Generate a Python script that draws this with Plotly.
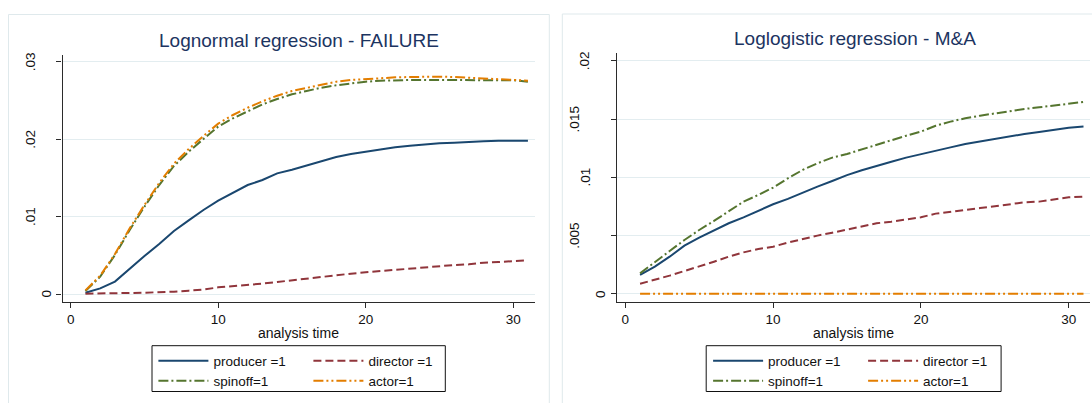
import plotly.graph_objects as go

# ---------------------------------------------------------------------------
# Data: predicted hazard by analysis time
# ---------------------------------------------------------------------------
time = list(range(1, 32))

# Lognormal regression - FAILURE
ln_producer = [0.00017, 0.00073, 0.0016, 0.00327, 0.0049, 0.00646, 0.00814, 0.00952,
               0.01085, 0.01206, 0.01309, 0.01408, 0.01473, 0.01559, 0.01606, 0.01658,
               0.01718, 0.0177, 0.01809, 0.01839, 0.01869, 0.01895, 0.01916, 0.01934,
               0.01947, 0.01955, 0.01968, 0.01972, 0.01981, 0.01981, 0.01981]
ln_director = [0.00004, 0.00004, 0.0001, 0.00013, 0.00017, 0.00022, 0.0003, 0.00043,
               0.00056, 0.00086, 0.00099, 0.00116, 0.00134, 0.00155, 0.00177, 0.00198,
               0.00228, 0.00245, 0.00263, 0.0028, 0.00297, 0.0031, 0.00323, 0.0034,
               0.00357, 0.00375, 0.00383, 0.00405, 0.00413, 0.00426, 0.00435]
ln_spinoff = [0.00039, 0.00224, 0.00504, 0.00827, 0.01128, 0.01408, 0.01654, 0.01839,
              0.02003, 0.02162, 0.0227, 0.02364, 0.0245, 0.02519, 0.0258, 0.02623,
              0.02666, 0.02696, 0.02722, 0.02743, 0.02756, 0.02765, 0.02765, 0.02765,
              0.02765, 0.02765, 0.02765, 0.02765, 0.02765, 0.02762, 0.02743]
ln_actor = [0.00047, 0.00237, 0.00517, 0.00848, 0.0115, 0.01434, 0.01684, 0.01873,
            0.02041, 0.02201, 0.02313, 0.02407, 0.02489, 0.02562, 0.02623, 0.02666,
            0.02709, 0.02743, 0.02765, 0.02778, 0.02791, 0.02799, 0.02804, 0.02808,
            0.02808, 0.02804, 0.02795, 0.02786, 0.02782, 0.02773, 0.02756]

# Loglogistic regression - M&A
ll_producer = [0.00161, 0.00232, 0.00318, 0.00413, 0.00481, 0.00542, 0.00605, 0.00656,
               0.00713, 0.00768, 0.00814, 0.00868, 0.0092, 0.00968, 0.01019, 0.0106,
               0.011, 0.01134, 0.01169, 0.012, 0.01231, 0.01257, 0.01286, 0.01309,
               0.01329, 0.01349, 0.01372, 0.01389, 0.01409, 0.01426, 0.01437]
ll_director = [0.00086, 0.00118, 0.00155, 0.00195, 0.00232, 0.00275, 0.00318, 0.00355,
               0.00384, 0.00404, 0.00439, 0.0047, 0.00499, 0.00524, 0.0055, 0.00576,
               0.00605, 0.00619, 0.00639, 0.00656, 0.00688, 0.00702, 0.00722, 0.00736,
               0.00751, 0.00771, 0.00785, 0.00791, 0.00811, 0.00828, 0.00834]
ll_spinoff = [0.00175, 0.00275, 0.00367, 0.00461, 0.00547, 0.00625, 0.00705, 0.00791,
              0.00848, 0.00911, 0.00991, 0.01063, 0.0112, 0.01169, 0.012, 0.0124,
              0.01283, 0.01317, 0.01357, 0.01392, 0.01443, 0.01478, 0.01507, 0.01529,
              0.01549, 0.01572, 0.01587, 0.01601, 0.01615, 0.01633, 0.01647]
ll_actor = [0.0, 0.0, 0.0, 0.0, 0.0, 0.0, 0.0, 0.0, 0.0, 0.0, 0.0, 0.0, 0.0, 0.0, 0.0, 0.0,
            0.0, 0.0, 0.0, 0.0, 0.0, 0.0, 0.0, 0.0, 0.0, 0.0, 0.0, 0.0, 0.0, 0.0, 0.0]

series_names = ["producer =1", "director =1", "spinoff=1", "actor=1"]
panel_titles = ["Lognormal regression - FAILURE", "Loglogistic regression - M&A"]
x_ticks = [0, 10, 20, 30]
left_yticks = [0, 0.01, 0.02, 0.03]
left_ylabels = ["0", ".01", ".02", ".03"]
right_yticks = [0, 0.005, 0.01, 0.015, 0.02]
right_ylabels = ["0", ".005", ".01", ".015", ".02"]

# ---------------------------------------------------------------------------
# Styling
# ---------------------------------------------------------------------------
W, H = 1092, 403
FONT = "Liberation Sans, Arial, sans-serif"
COLORS = ["#1a476f", "#90353b", "#55752f", "#e37e00"]
DASHES = ["solid", "8px,4px", "10px,3px,2px,3px", "10px,3px,2px,3px,2px,3px"]
GRID = "#e3edf0"
AXIS = "#2b2b2b"
TITLE_COLOR = "#1c3461"


def px_x(p):
    return p / W


def px_y(p):
    return 1 - p / H


fig = go.Figure()

left_series = [ln_producer, ln_director, ln_spinoff, ln_actor]
right_series = [ll_producer, ll_director, ll_spinoff, ll_actor]
legend_ids = [["legend", "legend", "legend2", "legend2"],
              ["legend3", "legend3", "legend4", "legend4"]]

for panel, (series, xa, ya) in enumerate([(left_series, "x", "y"), (right_series, "x2", "y2")]):
    for i, vals in enumerate(series):
        fig.add_trace(go.Scatter(
            x=time, y=vals, mode="lines", name=series_names[i],
            xaxis=xa, yaxis=ya,
            line=dict(color=COLORS[i], width=2, dash=DASHES[i]),
            legend=legend_ids[panel][i], showlegend=True,
        ))

axis_common = dict(
    showline=True, linecolor=AXIS, linewidth=1.2,
    ticks="outside", ticklen=5, tickwidth=1.2, tickcolor=AXIS,
    zeroline=False,
)

fig.update_layout(
    width=W, height=H,
    margin=dict(l=0, r=0, t=0, b=0),
    paper_bgcolor="white", plot_bgcolor="white",
    font=dict(family=FONT, color="#111111"),
    xaxis=dict(domain=[px_x(62.5), px_x(535)], range=[-0.556, 31.48],
               tickvals=x_ticks, showgrid=False, anchor="y",
               tickfont=dict(size=13.5, color="#111111"), **axis_common),
    yaxis=dict(domain=[px_y(301.7), px_y(55)], range=[-0.000995, 0.03088],
               tickvals=left_yticks, showticklabels=False, anchor="x",
               showgrid=True, gridcolor=GRID, gridwidth=1, **axis_common),
    xaxis2=dict(domain=[px_x(617.3), px_x(1090)], range=[-0.54, 31.44],
                tickvals=x_ticks, showgrid=False, anchor="y2",
                tickfont=dict(size=13.5, color="#111111"), **axis_common),
    yaxis2=dict(domain=[px_y(301.7), px_y(53.3)], range=[-0.000687, 0.02065],
                tickvals=right_yticks, showticklabels=False, anchor="x2",
                showgrid=True, gridcolor=GRID, gridwidth=1, **axis_common),
)

# Legends: two rows per panel, each row is its own horizontal legend
legend_style = dict(orientation="h", bgcolor="rgba(0,0,0,0)", borderwidth=0,
                    font=dict(size=13.5, color="#111111"), itemwidth=50,
                    entrywidth=90, xanchor="left", yanchor="middle",
                    tracegroupgap=0)
fig.update_layout(
    legend=dict(x=px_x(153.4), y=px_y(361), **legend_style),
    legend2=dict(x=px_x(153.4), y=px_y(381), **legend_style),
    legend3=dict(x=px_x(708.1), y=px_y(361), **legend_style),
    legend4=dict(x=px_x(708.1), y=px_y(381), **legend_style),
)

shapes = []
# light outer frame around each panel
for x0, x1, y0 in [(8.5, 549.3, 14.5), (562.3, 1110, 14)]:
    shapes.append(dict(type="rect", xref="paper", yref="paper",
                       x0=px_x(x0), x1=px_x(x1), y0=px_y(y0), y1=px_y(420),
                       line=dict(color="#dfe9ec", width=1), layer="below"))
# legend boxes
for x0, x1 in [(152, 445.3), (706.2, 1001.1)]:
    shapes.append(dict(type="rect", xref="paper", yref="paper",
                       x0=px_x(x0), x1=px_x(x1), y0=px_y(391.5), y1=px_y(345.7),
                       line=dict(color="#111111", width=1), fillcolor="white",
                       layer="below"))
fig.update_layout(shapes=shapes)

annotations = []
# panel titles
for title, cx, cy in [(panel_titles[0], 299.4, 40.5), (panel_titles[1], 855, 38.5)]:
    annotations.append(dict(text=title, xref="paper", yref="paper",
                            x=px_x(cx), y=px_y(cy), xanchor="center", yanchor="middle",
                            showarrow=False, font=dict(size=19, color=TITLE_COLOR)))
# x-axis titles
for cx in [298.7, 853.6]:
    annotations.append(dict(text="analysis time", xref="paper", yref="paper",
                            x=px_x(cx), y=px_y(333), xanchor="center", yanchor="middle",
                            showarrow=False, font=dict(size=14, color="#111111")))
# rotated y tick labels
label_offset = {1: 17, 3: 32, 4: 43}
for yref, axis_px, ticks, labels in [("y", 62.5, left_yticks, left_ylabels),
                                     ("y2", 617.3, right_yticks, right_ylabels)]:
    for v, lab in zip(ticks, labels):
        annotations.append(dict(text=lab, xref="paper", yref=yref,
                                x=px_x(axis_px - label_offset[len(lab)]), y=v,
                                xanchor="center", yanchor="middle", textangle=-90,
                                showarrow=False, font=dict(size=13.5, color="#111111")))
fig.update_layout(annotations=annotations)

fig.write_html("out.html")
